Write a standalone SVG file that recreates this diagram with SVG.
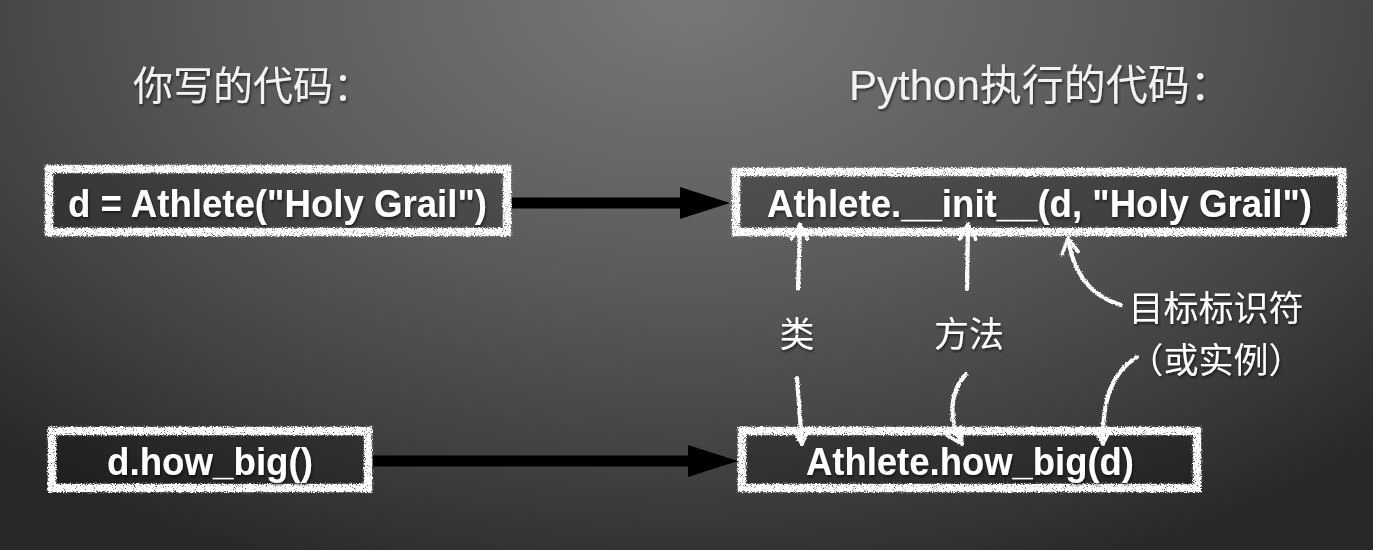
<svg xmlns="http://www.w3.org/2000/svg" width="1373" height="550" viewBox="0 0 1373 550">
  <defs>
    <radialGradient id="bg" gradientUnits="userSpaceOnUse" cx="0" cy="0" r="1" gradientTransform="translate(686 0) scale(1000 620)">
      <stop offset="0" stop-color="#787878"/>
      <stop offset="0.45" stop-color="#5b5b5b"/>
      <stop offset="0.72" stop-color="#444444"/>
      <stop offset="1" stop-color="#282828"/>
    </radialGradient>
    <filter id="chalk" filterUnits="userSpaceOnUse" x="0" y="0" width="1373" height="550">
      <feTurbulence type="fractalNoise" baseFrequency="0.8" numOctaves="2" seed="3" result="n"/>
      <feDisplacementMap in="SourceGraphic" in2="n" scale="4" xChannelSelector="R" yChannelSelector="G" result="d"/>
      <feTurbulence type="fractalNoise" baseFrequency="1.1" numOctaves="1" seed="7" result="n2"/>
      <feColorMatrix in="n2" type="matrix" values="0 0 0 0 0  0 0 0 0 0  0 0 0 0 0  -6 0 0 0 4.6" result="holes"/>
      <feComposite in="d" in2="holes" operator="in"/>
    </filter>
    <filter id="chalkLine" filterUnits="userSpaceOnUse" x="0" y="0" width="1373" height="550">
      <feTurbulence type="fractalNoise" baseFrequency="0.7" numOctaves="2" seed="5" result="n"/>
      <feDisplacementMap in="SourceGraphic" in2="n" scale="3" xChannelSelector="R" yChannelSelector="G" result="d"/>
      <feTurbulence type="fractalNoise" baseFrequency="1.1" numOctaves="1" seed="9" result="n2"/>
      <feColorMatrix in="n2" type="matrix" values="0 0 0 0 0  0 0 0 0 0  0 0 0 0 0  -6 0 0 0 5.0" result="holes"/>
      <feComposite in="d" in2="holes" operator="in"/>
    </filter>
    <filter id="shadow" x="-10%" y="-30%" width="120%" height="160%">
      <feDropShadow dx="1" dy="2" stdDeviation="1.5" flood-color="#000" flood-opacity="0.6"/>
    </filter>
    <marker id="bigHead" viewBox="0 0 50 32" markerWidth="50" markerHeight="32" refX="10" refY="16" markerUnits="userSpaceOnUse" orient="auto">
      <path d="M0,0 L50,16 L0,32 Z" fill="#000"/>
    </marker>
    <marker id="chev" viewBox="-18 -10 20 20" markerWidth="20" markerHeight="20" refX="0" refY="0" markerUnits="userSpaceOnUse" orient="auto">
      <path d="M-15,-8 L0,0 L-15,8" fill="none" stroke="#fff" stroke-width="3.5" stroke-linejoin="round" stroke-linecap="round"/>
    </marker>
    <style>
      .boxfill { fill: #000; fill-opacity: 0.22; }
      .boxline { fill: none; stroke: #fff; stroke-width: 8.5; filter: url(#chalk); }
      .code { font-family: "Liberation Sans", Arial, sans-serif; font-weight: bold; font-size: 38px; fill: #fff; filter: url(#shadow); }
      .title { font-family: "Liberation Sans", "Noto Sans CJK SC", sans-serif; font-size: 40px; fill: #f2f2f2; filter: url(#shadow); }
      .lbl { font-family: "Noto Sans CJK SC", sans-serif; font-size: 35px; fill: #fff; text-anchor: middle; filter: url(#shadow); }
      .bigarrow { fill: none; stroke: #000; stroke-width: 11; marker-end: url(#bigHead); }
      .chalkarrow { fill: none; stroke: #fff; stroke-width: 4.2; stroke-linecap: round; marker-end: url(#chev); filter: url(#chalkLine); }
    </style>
  </defs>

  <rect x="0" y="0" width="1373" height="550" fill="url(#bg)"/>

  <g id="titles">
    <text class="title" x="133" y="100">你写的代码：</text>
    <text class="title" x="849" y="100" style="font-size:42px">Python执行的代码：</text>
  </g>

  <g id="node-call">
    <rect class="boxfill" x="49" y="169" width="458" height="63"/>
    <rect class="boxline" x="49" y="169" width="458" height="63"/>
    <text class="code" x="68" y="217" textLength="419" lengthAdjust="spacingAndGlyphs">d = Athlete("Holy Grail")</text>
  </g>

  <g id="node-init">
    <rect class="boxfill" x="736" y="172" width="606" height="60"/>
    <rect class="boxline" x="736" y="172" width="606" height="60"/>
    <text class="code" x="767" y="217" textLength="545" lengthAdjust="spacingAndGlyphs">Athlete.__init__(d, "Holy Grail")</text>
  </g>

  <g id="node-howbig">
    <rect class="boxfill" x="52" y="431" width="316" height="57"/>
    <rect class="boxline" x="52" y="431" width="316" height="57"/>
    <text class="code" x="107" y="475" textLength="206" lengthAdjust="spacingAndGlyphs">d.how_big()</text>
  </g>

  <g id="node-athlete-howbig">
    <rect class="boxfill" x="742" y="431" width="455" height="57"/>
    <rect class="boxline" x="742" y="431" width="455" height="57"/>
    <text class="code" x="806" y="475" textLength="328" lengthAdjust="spacingAndGlyphs">Athlete.how_big(d)</text>
  </g>

  <g id="connectors">
    <path class="bigarrow" d="M512,203 L690,203"/>
    <path class="bigarrow" d="M373,461 L698,461"/>
    <path class="chalkarrow" d="M798,289 L800,224"/>
    <path class="chalkarrow" d="M967,289 L968,224"/>
    <path class="chalkarrow" d="M1121,305 Q1076,292 1068,238"/>
    <path class="chalkarrow" d="M797,378 L802,444"/>
    <path class="chalkarrow" d="M966,374 C947,395 950,425 962,444"/>
    <path class="chalkarrow" d="M1137,357 C1112,372 1102,400 1103,444"/>
  </g>

  <g id="labels">
    <text class="lbl" x="797" y="347">类</text>
    <text class="lbl" x="969" y="347">方法</text>
    <text class="lbl" x="1216" y="321">目标标识符</text>
    <text class="lbl" x="1216" y="373">（或实例）</text>
  </g>
</svg>
